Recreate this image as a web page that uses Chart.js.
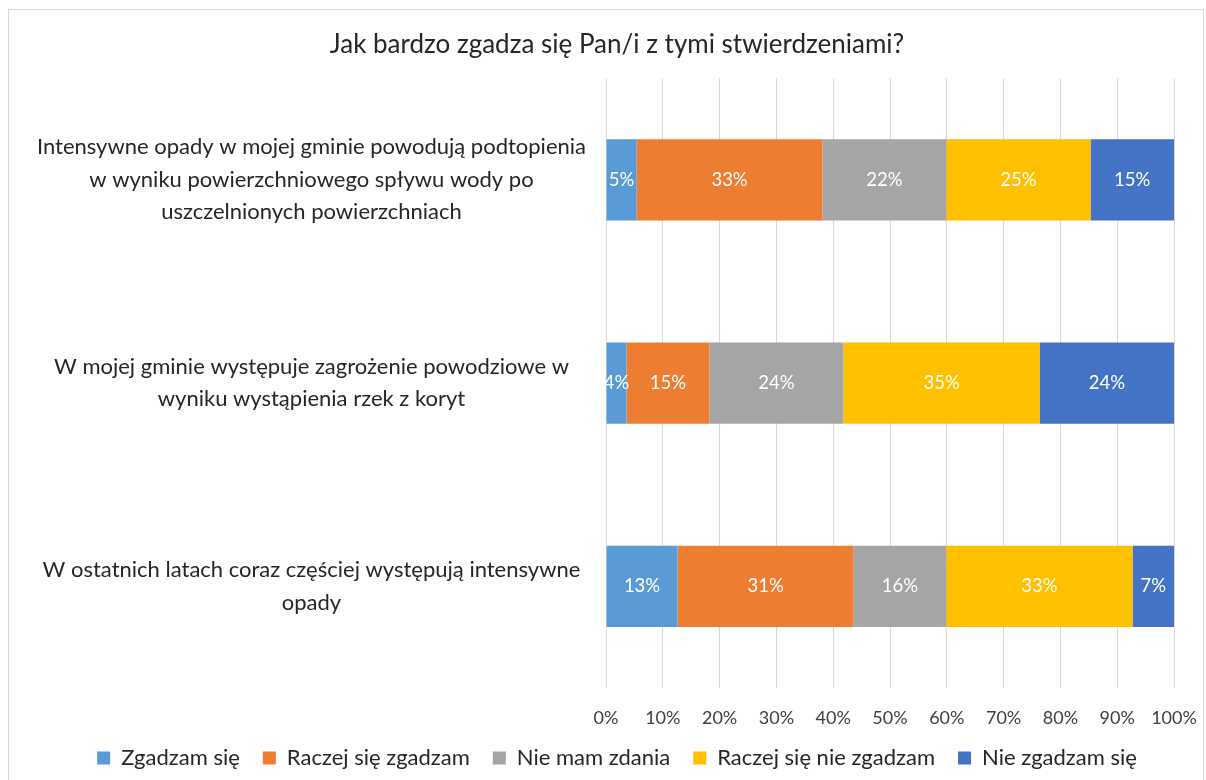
<!DOCTYPE html>
<html>
<head>
<meta charset="utf-8">
<script src="https://cdn.jsdelivr.net/npm/chart.js@4"></script>
<style>
  body { margin: 0; background: #fff; }
  #wrap { width: 1206px; height: 780px; position: relative; }
</style>
</head>
<body>
<div id="wrap"><canvas id="myChart"></canvas></div>
<script>
const categories = [
  ["Intensywne opady w mojej gminie powodują podtopienia", "w wyniku powierzchniowego spływu wody po", "uszczelnionych powierzchniach"],
  ["W mojej gminie występuje zagrożenie powodziowe w", "wyniku wystąpienia rzek z koryt"],
  ["W ostatnich latach coraz częściej występują intensywne", "opady"],
];
const seriesNames = ["Zgadzam się", "Raczej się zgadzam", "Nie mam zdania", "Raczej się nie zgadzam", "Nie zgadzam się"];
const agree = [5.4, 3.6, 12.6];
const ratherAgree = [32.7, 14.6, 31.0];
const noOpinion = [21.8, 23.6, 16.3];
const ratherDisagree = [25.4, 34.6, 32.8];
const disagree = [14.7, 23.6, 7.3];
const xTicks = [0, 10, 20, 30, 40, 50, 60, 70, 80, 90, 100];

const colors = ["#5B9BD5", "#ED7D31", "#A5A5A5", "#FFC000", "#4472C4"];
const FONT = "Lato, 'Open Sans', sans-serif";

// white background + thin frame like the excel chart area
const frame = {
  id: "frame",
  beforeDraw(chart) {
    const c = chart.ctx;
    c.save();
    c.fillStyle = "#fff";
    c.fillRect(0, 0, chart.width, chart.height);
    c.strokeStyle = "#d9d9d9";
    c.lineWidth = 1;
    c.strokeRect(8.5, 9.5, 1195, 780);
    c.restore();
  },
};

// percentage labels in the middle of each segment
const segLabels = {
  id: "segLabels",
  afterDatasetsDraw(chart) {
    const c = chart.ctx;
    const a = chart.chartArea;
    c.save();
    c.beginPath();
    c.rect(a.left, a.top, a.right - a.left, a.bottom - a.top);
    c.clip();
    c.fillStyle = "#fff";
    c.font = "18.5px " + FONT;
    c.textAlign = "center";
    c.textBaseline = "middle";
    chart.data.datasets.forEach((ds, i) => {
      chart.getDatasetMeta(i).data.forEach((bar, j) => {
        const x = (bar.x + bar.base) / 2;
        c.fillText(Math.round(ds.data[j]) + "%", x, bar.y);
      });
    });
    c.restore();
  },
};

const ctx = document.getElementById("myChart");

new Chart(ctx, {
  type: "bar",
  data: {
    labels: categories,
    datasets: [agree, ratherAgree, noOpinion, ratherDisagree, disagree].map((d, i) => ({
      label: seriesNames[i],
      data: d,
      backgroundColor: colors[i],
      barPercentage: 0.4,
      categoryPercentage: 1,
    })),
  },
  options: {
    indexAxis: "y",
    responsive: true,
    maintainAspectRatio: false,
    animation: false,
    layout: { padding: { top: 10, left: 28, right: 0, bottom: 3 } },
    plugins: {
      title: {
        display: true,
        text: "Jak bardzo zgadza się Pan/i z tymi stwierdzeniami?",
        color: "#262626",
        font: { family: FONT, size: 26, weight: "normal" },
        padding: { top: 19, bottom: 18 },
      },
      legend: {
        position: "bottom",
        maxHeight: 53,
        labels: {
          color: "#262626",
          font: { family: FONT, size: 22 },
          boxWidth: 13,
          boxHeight: 13,
          padding: 23,
        },
      },
      tooltip: { enabled: false },
    },
    scales: {
      x: {
        stacked: true,
        min: 0,
        max: 100,
        afterBuildTicks(scale) {
          scale.ticks = xTicks.map((v) => ({ value: v }));
        },
        ticks: {
          color: "#404040",
          font: { family: FONT, size: 18 },
          padding: 19,
          callback: (v) => v + "%",
        },
        grid: { color: "#d9d9d9", drawTicks: false },
        border: { display: false },
        afterFit(scale) {
          scale.height = 36;
          scale.paddingLeft = 0;
          scale.paddingRight = 32;
        },
      },
      y: {
        stacked: true,
        ticks: {
          color: "#262626",
          font: { family: FONT, size: 22, lineHeight: 1.48 },
          crossAlign: "center",
          padding: 20,
        },
        grid: { display: false, drawTicks: false },
        border: { display: false },
        afterFit(scale) {
          scale.width = 578;
          scale.paddingTop = 0;
          scale.paddingBottom = 0;
        },
      },
    },
  },
  plugins: [frame, segLabels],
});
</script>
</body>
</html>
